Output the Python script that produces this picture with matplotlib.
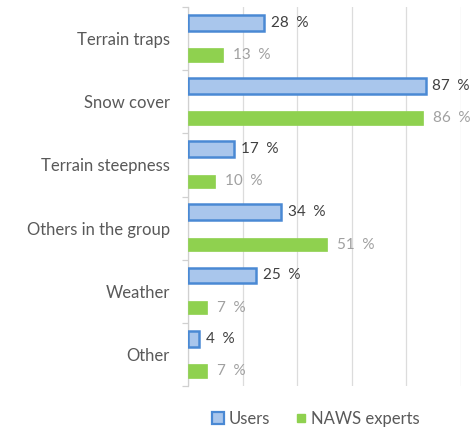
import matplotlib
matplotlib.use("Agg")
import matplotlib.pyplot as plt
from matplotlib.lines import Line2D
import numpy as np

categories = ["Terrain traps", "Snow cover", "Terrain steepness",
              "Others in the group", "Weather", "Other"]
users = [28, 87, 17, 34, 25, 4]
naws = [13, 86, 10, 51, 7, 7]
series_names = ["Users", "NAWS experts"]

plt.rcParams['font.family'] = ['Lato', 'DejaVu Sans']

fig = plt.figure(figsize=(4.70, 4.28), dpi=100)
ax = fig.add_axes([188/470, 1-386/428, (461-188)/470, (386-7)/428])

y = np.arange(len(categories))
h = 0.25
blue_fill = "#a9c6ec"
blue_edge = "#4a89d4"
green = "#8fd14f"

ax.barh(y - 0.25, users, height=h, color=blue_fill, edgecolor=blue_edge, linewidth=1.8, zorder=3)
ax.barh(y + 0.26, naws, height=h*0.85, color=green, edgecolor=green, linewidth=0.5, zorder=3)

for yi, v in zip(y, users):
    ax.annotate(f"{v}\u2002%", (v, yi - 0.25), xytext=(5, 0), textcoords="offset points",
                va="center", ha="left", fontsize=11, color="#404040")
for yi, v in zip(y, naws):
    ax.annotate(f"{v}\u2002%", (v, yi + 0.26), xytext=(7, 0), textcoords="offset points",
                va="center", ha="left", fontsize=11, color="#a0a0a0")

ax.set_xlim(0, 100)
ax.set_ylim(len(categories) - 0.5, -0.5)
ax.set_xticks([0, 20, 40, 60, 80, 100])
ax.tick_params(axis='x', length=0, labelbottom=False)
ax.grid(axis='x', color="#dcdcdc", linewidth=0.9, zorder=0)
ax.set_yticks(y)
ax.set_yticklabels(categories, fontsize=12, color="#595959")
ax.tick_params(axis='y', which='major', length=0, pad=13)
ax.set_yticks(np.arange(-0.5, len(categories)), minor=True)
ax.tick_params(axis='y', which='minor', length=4, color="#d0d0d0", width=0.9)
for s in ["top", "right", "bottom"]:
    ax.spines[s].set_visible(False)
ax.spines["left"].set_color("#d0d0d0")
ax.spines["left"].set_linewidth(0.9)

handles = [
    Line2D([], [], marker='s', linestyle='none', markersize=9,
           markerfacecolor=blue_fill, markeredgecolor=blue_edge, markeredgewidth=1.6),
    Line2D([], [], marker='s', linestyle='none', markersize=5.5,
           markerfacecolor=green, markeredgecolor=green),
]
fig.legend(handles, series_names, loc="center", bbox_to_anchor=(0.67, 0.022),
           ncol=2, frameon=False, fontsize=12, labelcolor="#595959",
           handletextpad=0.1, columnspacing=1.4, handlelength=1.0)

fig.savefig("out.png", dpi=100)
